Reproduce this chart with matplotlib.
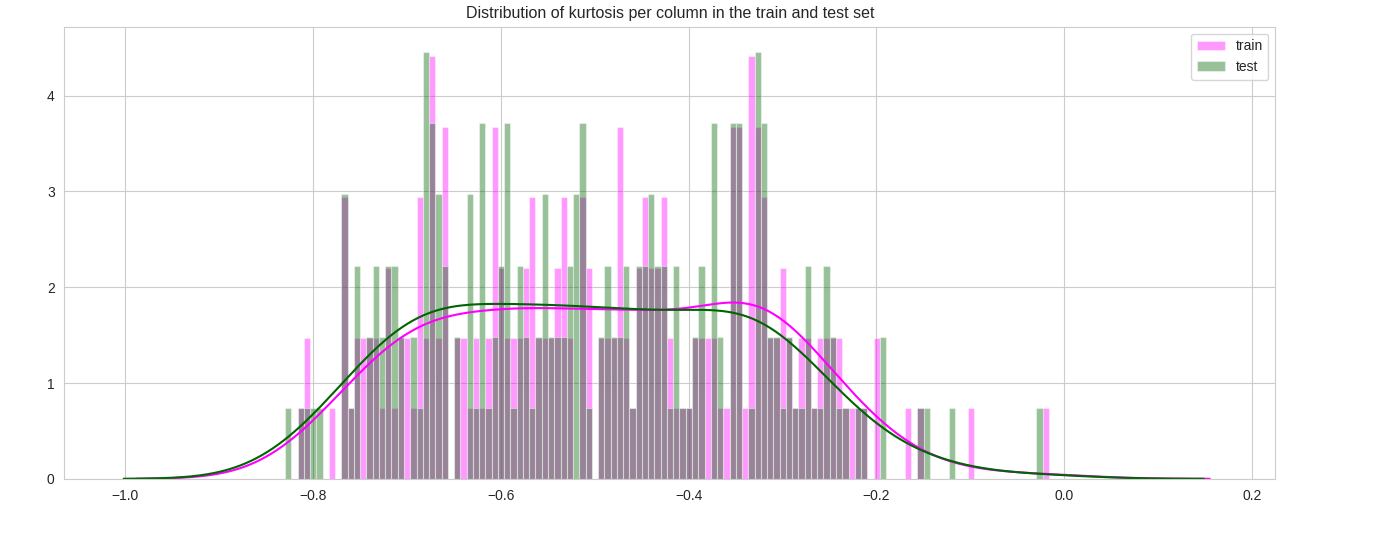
import numpy as np
import matplotlib
matplotlib.use("Agg")
import matplotlib.pyplot as plt
import seaborn as sns

bin_start = -0.83
bin_width = 0.00667
train_counts = [0,0,1,2,0,0,0,1,0,4, 1,2,2,2,2,1,3,1,2,2, 1,4,2,6,2,5,0,2,2,1,
                2,1,2,5,3,2,2,2,3,4, 2,2,2,3,4,2,0,4,3,0, 2,2,2,5,2,1,3,4,3,3,
                4,2,1,1,1,2,2,2,2,1, 1,5,5,1,6,5,4,2,2,3, 2,1,2,2,1,2,2,2,2,1,
                1,1,1,0,2,0,0,0,0,1, 0,1,0,0,0,0,0,0,0,1, 0,0,0,0,0,0,0,0,0,0, 0,1]
test_counts = [1,0,1,1,1,1,0,0,0,4, 1,3,0,2,3,2,3,3,2,0, 2,1,6,5,4,3,0,2,0,4,
               1,5,1,2,3,5,1,3,2,1, 2,4,2,2,2,3,4,5,1,0, 2,3,2,2,3,1,3,3,4,3,
               3,1,3,1,1,2,3,0,5,2, 0,5,5,0,1,6,5,2,2,1, 2,1,1,3,1,1,3,2,1,1,
               0,1,1,0,0,2,0,0,0,0, 0,1,1,0,0,0,1,0,0,0, 0,0,0,0,0,0,0,0,0,0, 1,0]

sns.set_style("whitegrid")
plt.rcParams['font.family'] = ['Liberation Sans', 'DejaVu Sans']

def plot_series(ax, counts, color, label):
    counts = np.array(counts, float)
    n = len(counts)
    edges = bin_start + bin_width * np.arange(n + 1)
    centers = edges[:-1] + bin_width / 2
    ax.hist(centers, bins=edges, weights=counts, density=True, color=color,
            alpha=0.4, label=label, edgecolor='white', linewidth=0.8)
    samples = np.repeat(centers, counts.astype(int))
    bw = samples.std(ddof=1) * len(samples) ** (-0.2)
    xs = np.linspace(samples.min() - 3 * bw, samples.max() + 3 * bw, 400)
    ys = np.exp(-0.5 * ((xs[:, None] - samples[None, :]) / bw) ** 2).sum(1)
    ys /= len(samples) * bw * np.sqrt(2 * np.pi)
    ax.plot(xs, ys, color=color, linewidth=1.5)

fig = plt.figure(figsize=(14, 5.35), dpi=100)
ax = fig.add_axes([0.046, 0.105, 0.865, 0.845])
plot_series(ax, train_counts, 'magenta', 'train')
plot_series(ax, test_counts, 'darkgreen', 'test')
ax.set_xlim(-1.065, 0.225)
ax.set_ylim(0, 4.72)
ax.set_title("Distribution of kurtosis per column in the train and test set", fontsize=11.5)
ax.tick_params(labelsize=10)
ax.legend(loc='upper right', fontsize=10)
fig.savefig("out.png")
